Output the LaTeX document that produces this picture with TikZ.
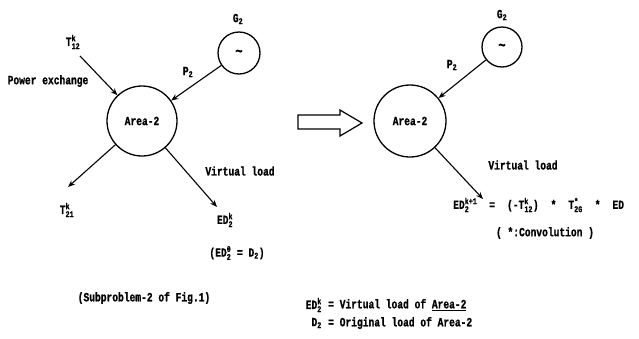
\documentclass[tikz,border=0pt]{standalone}
\usepackage{fontspec}
\usepackage{amsmath}
\setmonofont[BoldFeatures={FakeBold=1.2}]{Liberation Mono}
\usetikzlibrary{arrows.meta}
\newcommand{\tx}[1]{\scalebox{1}[1.3]{#1}}
\newcommand{\gap}{\hspace{12pt}}
\tikzset{
  lbl/.style={font=\ttfamily\bfseries\fontsize{9.6}{11}\selectfont, inner sep=0pt},
  area/.style={draw, circle, line width=1.3pt, minimum size=#1, inner sep=0pt,
    font=\ttfamily\bfseries\fontsize{9.6}{11}\selectfont},
  flow/.style={line width=1.1pt, -{Stealth[length=7pt,width=5.5pt]}},
}
\begin{document}
\begin{tikzpicture}[x=1pt,y=-1pt]
\useasboundingbox (0,0) rectangle (639,338);
% ---------- left diagram ----------
\node[area=70pt] (areaL) at (142,121) {\tx{Area-2}};
\node[area=42pt] (genL) at (239,53) {\tx{\large\textasciitilde}};
\node[lbl] (gL) at (238,19) {\tx{G$_{\text{2}}$}};
\node[lbl] (pL) at (188,72) {\tx{P$_{\text{2}}$}};
\node[lbl] (t12) at (73,42) {\tx{T$^{\text{k}}_{\text{12}}$}};
\coordinate (t12s) at (80,56);
\node[lbl] (pex) at (48,81) {\tx{Power exchange}};
\coordinate (t21e) at (68,187);
\node[lbl] (t21) at (67,210) {\tx{T$^{\text{k}}_{\text{21}}$}};
\coordinate (edLe) at (217,207);
\node[lbl] (vlL) at (240,171) {\tx{Virtual load}};
\node[lbl] (edL) at (225,220) {\tx{ED$^{\text{k}}_{\text{2}}$}};
\node[lbl] (ed0) at (237,253) {\tx{(ED$^{\text{0}}_{\text{2}}$ = D$_{\text{2}}$)}};
\node[lbl] (sub) at (144,298) {\tx{(Subproblem-2 of Fig.1)}};
\draw[flow] (t12s) -- (areaL);
\draw[flow] (genL) -- (areaL);
\draw[flow] (areaL) -- (t21e);
\draw[flow] (areaL) -- (edLe);
% ---------- big hollow arrow ----------
\draw[line width=1.2pt, line join=miter] (298,115) -- (340,115) -- (340,110) -- (362,123)
  -- (340,136) -- (340,129) -- (298,129) -- cycle;
% ---------- right diagram ----------
\node[area=72pt] (areaR) at (410,121) {\tx{Area-2}};
\node[area=40pt] (genR) at (502,47) {\tx{\large\textasciitilde}};
\node[lbl] (gR) at (502,15) {\tx{G$_{\text{2}}$}};
\node[lbl] (pR) at (452,65) {\tx{P$_{\text{2}}$}};
\coordinate (edRe) at (483,199);
\node[lbl] (vlR) at (523,165) {\tx{Virtual load}};
\node[lbl, anchor=west] (eq) at (453,205)
  {\tx{ED$^{\text{k+1}}_{\text{2}}$\gap=\gap(-T$^{\text{k}}_{\text{12}}$)\gap*\gap T$^{\text{*}}_{\text{2G}}$\gap*\gap ED}};
\node[lbl] (conv) at (545,233) {\tx{( *:Convolution )}};
\draw[flow] (genR) -- (areaR);
\draw[flow] (areaR) -- (edRe);
% ---------- legend ----------
\node[lbl, anchor=east] (lg1a) at (322,305) {\tx{ED$^{\text{k}}_{\text{2}}$}};
\node[lbl, anchor=west] (lg1b) at (328,305) {\tx{= Virtual load of \underline{Area-2}}};
\node[lbl, anchor=east] (lg2a) at (322,323) {\tx{D$_{\text{2}}$}};
\node[lbl, anchor=west] (lg2b) at (328,323) {\tx{= Original load of Area-2}};
\end{tikzpicture}
\end{document}
